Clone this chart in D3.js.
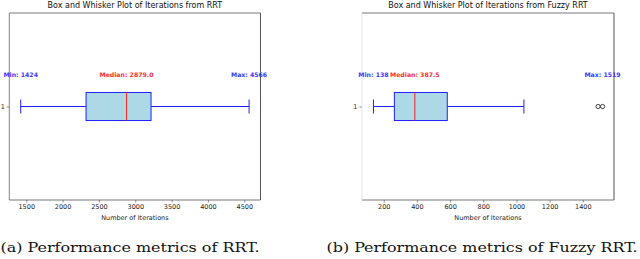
<!DOCTYPE html>
<html><head><meta charset="utf-8">
<script src="https://cdn.jsdelivr.net/npm/d3@7"></script>
<style>body{margin:0;background:#fff}svg{display:block}</style>
</head><body>
<svg id="c" width="640" height="259"></svg>
<script>
// ---- data ----
const panelNames = ["RRT", "Fuzzy RRT"];
const panelTitles = ["Box and Whisker Plot of Iterations from RRT", "Box and Whisker Plot of Iterations from Fuzzy RRT"];
const captions = ["(a) Performance metrics of RRT.", "(b) Performance metrics of Fuzzy RRT."];
// [lower whisker, Q1, median, Q3, upper whisker]
const rrtStats = [1424, 2323, 2879, 3217, 4566];
const fuzzyStats = [138, 264, 387.5, 583, 1045];
const rrtOutliers = [];
const fuzzyOutliers = [1492, 1519];
const rrtMinMax = [1424, 4566];
const fuzzyMinMax = [138, 1519];
const rrtTicks = [1500, 2000, 2500, 3000, 3500, 4000, 4500];
const fuzzyTicks = [200, 400, 600, 800, 1000, 1200, 1400];
const yTicks = [1];
const xLabel = "Number of Iterations";

const svg = d3.select("#c");
const font = "DejaVu Sans, sans-serif";

const panels = [
  {stats: rrtStats, out: rrtOutliers, mm: rrtMinMax, ticks: rrtTicks, x0: 9.3, x1: 260.5, leftSpine: "#666", capX: 130, capLen: 259},
  {stats: fuzzyStats, out: fuzzyOutliers, mm: fuzzyMinMax, ticks: fuzzyTicks, x0: 362, x1: 614, leftSpine: "#ddd", capX: 482, capLen: 311}
];

panels.forEach((p, i) => {
  const all = p.stats.concat(p.out);
  const lo = d3.min(all), hi = d3.max(all), pad = (hi - lo) * 0.05;
  const x = d3.scaleLinear().domain([lo - pad, hi + pad]).range([p.x0, p.x1]);
  const y = d3.scaleLinear().domain([0.5, 1.5]).range([200, 13]);
  const g = svg.append("g");

  // title
  g.append("text").attr("x", (p.x0 + p.x1) / 2).attr("y", 8)
    .attr("text-anchor", "middle").attr("font-family", font).attr("font-size", 8).attr("fill", "#111")
    .text(panelTitles[i]);

  // x axis
  const xa = g.append("g").attr("transform", "translate(0,200)")
    .call(d3.axisBottom(x).tickValues(p.ticks).tickSize(2.5).tickPadding(2).tickFormat(d3.format("d")));
  xa.select(".domain").remove();
  xa.selectAll("line").attr("stroke", "#444").attr("stroke-width", 0.6);
  xa.selectAll("text").attr("font-family", font).attr("font-size", 6.5).attr("fill", "#222");

  // y axis
  const ya = g.append("g").attr("transform", `translate(${p.x0},0)`)
    .call(d3.axisLeft(y).tickValues(yTicks).tickSize(2.5).tickPadding(2).tickFormat(d3.format("d")));
  ya.select(".domain").remove();
  ya.selectAll("line").attr("stroke", "#444").attr("stroke-width", 0.6);
  ya.selectAll("text").attr("font-family", font).attr("font-size", 6.5).attr("fill", "#222");

  // x label
  g.append("text").attr("x", (p.x0 + p.x1) / 2).attr("y", 220)
    .attr("text-anchor", "middle").attr("font-family", font).attr("font-size", 6.5).attr("fill", "#222")
    .text(xLabel);

  // spines
  g.append("line").attr("x1", p.x0).attr("x2", p.x1).attr("y1", 13).attr("y2", 13).attr("stroke", "#555").attr("stroke-width", 0.8);
  g.append("line").attr("x1", p.x0).attr("x2", p.x1).attr("y1", 200).attr("y2", 200).attr("stroke", "#555").attr("stroke-width", 0.8);
  g.append("line").attr("x1", p.x0).attr("x2", p.x0).attr("y1", 13).attr("y2", 200).attr("stroke", p.leftSpine).attr("stroke-width", 0.8);
  g.append("line").attr("x1", p.x1).attr("x2", p.x1).attr("y1", 13).attr("y2", 200).attr("stroke", "#555").attr("stroke-width", 1);

  const [w0, q1, med, q3, w1] = p.stats;
  const bw = 0.15, cw = 0.075;
  const blue = "#1f1fff";
  // whiskers
  g.append("line").attr("x1", x(w0)).attr("x2", x(q1)).attr("y1", y(1)).attr("y2", y(1)).attr("stroke", blue).attr("stroke-width", 1);
  g.append("line").attr("x1", x(q3)).attr("x2", x(w1)).attr("y1", y(1)).attr("y2", y(1)).attr("stroke", blue).attr("stroke-width", 1);
  [w0, w1].forEach(v => g.append("line").attr("x1", x(v)).attr("x2", x(v))
    .attr("y1", y(1 + cw / 2)).attr("y2", y(1 - cw / 2)).attr("stroke", blue).attr("stroke-width", 1));
  // box
  g.append("rect").attr("x", x(q1)).attr("width", x(q3) - x(q1))
    .attr("y", y(1 + bw / 2)).attr("height", y(1 - bw / 2) - y(1 + bw / 2))
    .attr("fill", "#add8e6").attr("stroke", blue).attr("stroke-width", 1);
  // median
  g.append("line").attr("x1", x(med)).attr("x2", x(med)).attr("y1", y(1 + bw / 2)).attr("y2", y(1 - bw / 2))
    .attr("stroke", "#ff2020").attr("stroke-width", 1);
  // outliers
  g.selectAll("circle.o").data(p.out).join("circle").attr("class", "o")
    .attr("cx", d => x(d)).attr("cy", y(1)).attr("r", 2.1)
    .attr("fill", "none").attr("stroke", "#111").attr("stroke-width", 0.8);

  // annotations
  const ay = 77;
  const ann = [
    {v: p.mm[0], t: "Min: " + p.mm[0], c: "#3a3aff"},
    {v: med, t: "Median: " + d3.format(".1f")(med), c: "#ff3030"},
    {v: p.mm[1], t: "Max: " + p.mm[1], c: "#3a3aff"}
  ];
  ann.forEach(a => g.append("text").attr("x", x(a.v)).attr("y", ay)
    .attr("text-anchor", "middle").attr("font-family", font).attr("font-size", 6.2)
    .attr("font-weight", "bold").attr("fill", a.c).text(a.t));

  // caption
  svg.append("text").attr("x", p.capX).attr("y", 252).attr("text-anchor", "middle")
    .attr("font-family", "DejaVu Serif, serif").attr("font-size", 13.5).attr("fill", "#111")
    .attr("textLength", p.capLen).attr("lengthAdjust", "spacingAndGlyphs")
    .text(captions[i]);
});
</script>
</body></html>
